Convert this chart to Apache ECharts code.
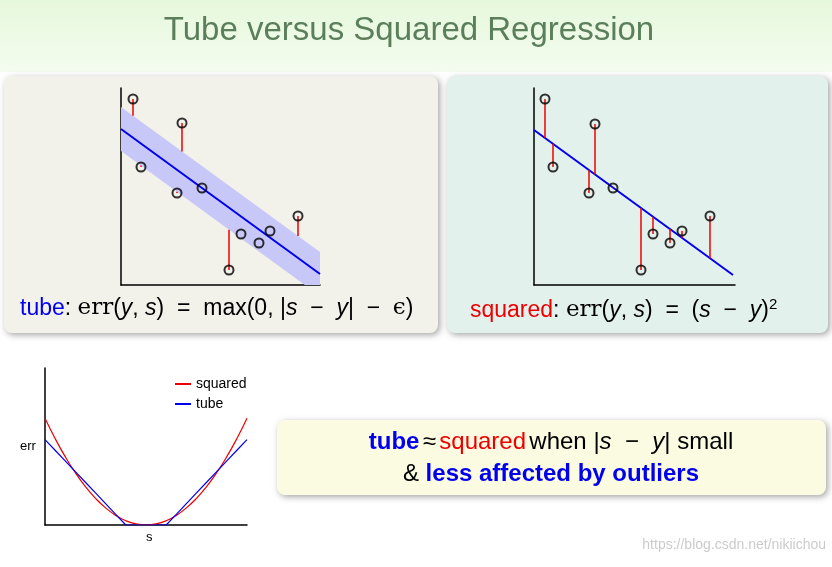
<!DOCTYPE html>
<html>
<head>
<meta charset="UTF-8">
<script src="https://cdn.jsdelivr.net/npm/echarts@6/dist/echarts.min.js"></script>
<style>
  body { margin: 0; background: #fff; }
  #main { width: 832px; height: 567px; }
</style>
</head>
<body>
<div id="main"></div>
<script>
// scatter points (x, y) of the two regression panels
var tubePoints = [[12,186],[20,118],[61,162],[56,92],[81,97],[108,15],[120,51],[138,42],[149,54],[177,69]];
var sqPoints = [[11,186],[19,118],[61,161],[55,92],[79,97],[107,15],[119,51],[136,42],[148,54],[176,69]];
// fitted lines: [x, y] at both ends
var tubeLine = [[0,156],[199,11]];
var sqLine = [[0,155],[199,10]];
var epsilon = 22;

// loss curves
var sVals = [-1,-0.9,-0.8,-0.7,-0.6,-0.5,-0.4,-0.3,-0.2,-0.1,0,0.1,0.2,0.3,0.4,0.5,0.6,0.7,0.8,0.9,1];
var squaredErr = [1,0.81,0.64,0.49,0.36,0.25,0.16,0.09,0.04,0.01,0,0.01,0.04,0.09,0.16,0.25,0.36,0.49,0.64,0.81,1];
var tubeErr = [0.8,0.7,0.6,0.5,0.4,0.3,0.2,0.1,0,0,0,0,0,0.1,0.2,0.3,0.4,0.5,0.6,0.7,0.8];

function lineAt(line, x) {
  var k = (line[1][1] - line[0][1]) / (line[1][0] - line[0][0]);
  return line[0][1] + k * (x - line[0][0]);
}
var tubeRes = [];
tubePoints.forEach(function (p) {
  var m = lineAt(tubeLine, p[0]);
  if (p[1] > m + epsilon) tubeRes.push({coords: [p, [p[0], m + epsilon]]});
  else if (p[1] < m - epsilon) tubeRes.push({coords: [p, [p[0], m - epsilon]]});
});
var sqRes = sqPoints.map(function (p) {
  return {coords: [p, [p[0], lineAt(sqLine, p[0])]]};
});

var axLine = {show: true, onZero: false, lineStyle: {color: '#000', width: 1.5}};
function ax(type, min, max, gi) {
  return {type: 'value', gridIndex: gi, min: min, max: max, axisLine: axLine,
    axisTick: {show: false}, axisLabel: {show: false}, splitLine: {show: false}};
}
var scatterStyle = {color: 'rgba(0,0,0,0)', borderColor: '#000', borderWidth: 2};
var serif = 'DejaVu Serif';
var sans = 'Liberation Sans';
var mathRich = {
  b: {fill: '#0000ee', fontSize: 23, fontFamily: sans},
  r: {fill: '#ee0000', fontSize: 23, fontFamily: sans},
  t: {fill: '#000', fontSize: 23, fontFamily: sans},
  e: {fill: '#000', fontSize: 23, fontFamily: serif},
  i: {fill: '#000', fontSize: 23, fontFamily: sans, fontStyle: 'italic'},
  sup: {fill: '#000', fontSize: 15, fontFamily: sans, padding: [0, 0, 12, 0]}
};

var chart = echarts.init(document.getElementById('main'));
chart.setOption({
  animation: false,
  graphic: [
    {type: 'rect', shape: {x: 0, y: 0, width: 832, height: 72}, z: -10,
      style: {fill: new echarts.graphic.LinearGradient(0, 0, 0, 1, [{offset: 0, color: '#e6f8dc'}, {offset: 1, color: '#f4fcef'}])}},
    {type: 'text', style: {x: 409, y: 14, align: 'center', text: 'Tube versus Squared Regression', fontSize: 33, fontFamily: sans, fill: '#5b7f5b'}},
    {type: 'rect', shape: {x: 4, y: 76, width: 434, height: 257, r: 8}, z: -10,
      style: {fill: '#f2f1ea', shadowBlur: 6, shadowColor: 'rgba(0,0,0,0.35)', shadowOffsetX: 2, shadowOffsetY: 2}},
    {type: 'rect', shape: {x: 447, y: 76, width: 381, height: 257, r: 8}, z: -10,
      style: {fill: '#e3f1ec', shadowBlur: 6, shadowColor: 'rgba(0,0,0,0.35)', shadowOffsetX: 2, shadowOffsetY: 2}},
    {type: 'text', style: {x: 20, y: 297,
      text: '{b|tube}{t|: }{e|err}{t|(}{i|y}{t|, }{i|s}{t|)  =  max(0, |}{i|s}{t|  −  }{i|y}{t||  −  }{e|ϵ}{t|)}', rich: mathRich}},
    {type: 'text', style: {x: 470, y: 297,
      text: '{r|squared}{t|: }{e|err}{t|(}{i|y}{t|, }{i|s}{t|)  =  (}{i|s}{t|  −  }{i|y}{t|)}{sup|2}', rich: mathRich}},
    {type: 'rect', shape: {x: 277, y: 420, width: 549, height: 75, r: 8}, z: -10,
      style: {fill: '#fbfbe2', shadowBlur: 6, shadowColor: 'rgba(0,0,0,0.35)', shadowOffsetX: 2, shadowOffsetY: 2}},
    {type: 'text', style: {x: 551, y: 426, align: 'center',
      text: '{bb|tube} {t|≈} {r|squared} {t|when |}{i|s}{t|  −  }{i|y}{t|| small}\n{t|& }{bb|less affected by outliers}',
      lineHeight: 32,
      rich: {
        bb: {fill: '#0000ee', fontSize: 24, fontWeight: 'bold', fontFamily: sans, lineHeight: 32},
        r: {fill: '#ee0000', fontSize: 24, fontFamily: sans, lineHeight: 32},
        t: {fill: '#000', fontSize: 24, fontFamily: sans, lineHeight: 32},
        i: {fill: '#000', fontSize: 24, fontFamily: sans, fontStyle: 'italic', lineHeight: 32}
      }}},
    {type: 'text', style: {x: 20, y: 440, text: 'err', fontSize: 13, fontFamily: sans, fill: '#000'}},
    {type: 'text', style: {x: 146, y: 531, text: 's', fontSize: 13, fontFamily: sans, fill: '#000'}},
    {type: 'text', style: {x: 826, y: 538, align: 'right', text: 'https://blog.csdn.net/nikiichou', fontSize: 14, fontFamily: sans, fill: 'rgba(190,190,190,0.8)'}}
  ],
  legend: {left: 170, top: 372, orient: 'vertical', itemWidth: 16, itemHeight: 2, itemGap: 6,
    icon: 'rect', data: ['squared', 'tube'], textStyle: {fontSize: 14, fontFamily: sans, color: '#000'}},
  grid: [
    {left: 121, top: 88, width: 199, height: 197},
    {left: 534, top: 88, width: 201, height: 197},
    {left: 45, top: 368, width: 202, height: 157}
  ],
  xAxis: [ax('value', 0, 199, 0), ax('value', 0, 201, 1), ax('value', -1, 1, 2)],
  yAxis: [ax('value', 0, 197, 0), ax('value', 0, 197, 1), ax('value', 0, 1.47, 2)],
  series: [
    {type: 'custom', xAxisIndex: 0, yAxisIndex: 0, data: [0], z: 1, clip: true,
      renderItem: function (params, api) {
        var pts = [
          api.coord([tubeLine[0][0], tubeLine[0][1] + epsilon]),
          api.coord([tubeLine[1][0], tubeLine[1][1] + epsilon]),
          api.coord([tubeLine[1][0], tubeLine[1][1] - epsilon]),
          api.coord([tubeLine[0][0], tubeLine[0][1] - epsilon])
        ];
        return {type: 'polygon', shape: {points: pts}, style: {fill: '#c8c8f8'}};
      }},
    {type: 'line', xAxisIndex: 0, yAxisIndex: 0, data: tubeLine, symbol: 'none', z: 2,
      lineStyle: {color: '#0000ee', width: 2}},
    {type: 'lines', coordinateSystem: 'cartesian2d', xAxisIndex: 0, yAxisIndex: 0, data: tubeRes, z: 3,
      lineStyle: {color: '#ee0000', width: 1.5, opacity: 1}},
    {type: 'scatter', xAxisIndex: 0, yAxisIndex: 0, data: tubePoints, symbolSize: 9, z: 4, itemStyle: scatterStyle},
    {type: 'line', xAxisIndex: 1, yAxisIndex: 1, data: sqLine, symbol: 'none', z: 2,
      lineStyle: {color: '#0000ee', width: 2}},
    {type: 'lines', coordinateSystem: 'cartesian2d', xAxisIndex: 1, yAxisIndex: 1, data: sqRes, z: 3,
      lineStyle: {color: '#ee0000', width: 1.5, opacity: 1}},
    {type: 'scatter', xAxisIndex: 1, yAxisIndex: 1, data: sqPoints, symbolSize: 9, z: 4, itemStyle: scatterStyle},
    {name: 'squared', type: 'line', xAxisIndex: 2, yAxisIndex: 2, smooth: true, symbol: 'none',
      data: sVals.map(function (s, i) { return [s, squaredErr[i]]; }),
      color: '#ee0000', lineStyle: {width: 1.2}},
    {name: 'tube', type: 'line', xAxisIndex: 2, yAxisIndex: 2, symbol: 'none',
      data: sVals.map(function (s, i) { return [s, tubeErr[i]]; }),
      color: '#0000ee', lineStyle: {width: 1.2}}
  ]
});
</script>
</body>
</html>
